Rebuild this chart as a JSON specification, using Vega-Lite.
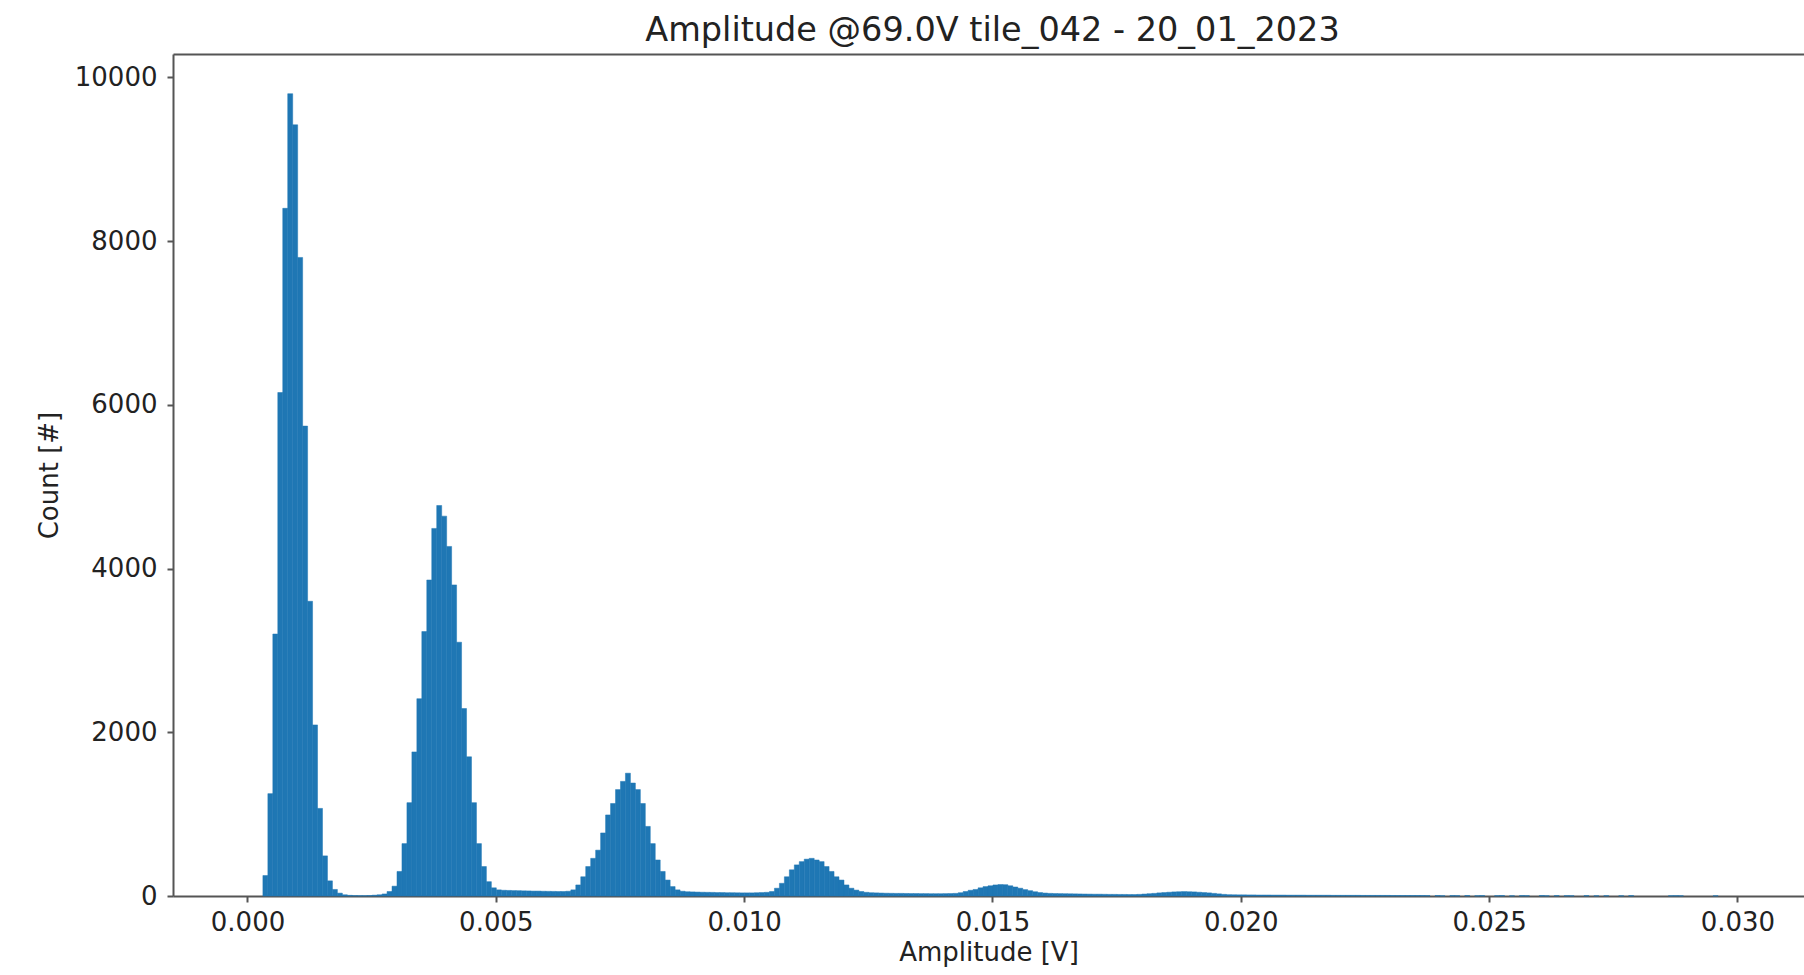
{
"$schema": "https://vega.github.io/schema/vega-lite/v6.json",
"width": 1631,
"height": 842,
"autosize": {"type": "none"},
"padding": {"left": 173, "top": 54, "right": 0, "bottom": 79},
"background": "white",
"config": {"font": "DejaVu Sans", "view": {"stroke": null}},
"title": {"text": "Amplitude @69.0V tile_042 - 20_01_2023", "fontSize": 33.5, "fontWeight": "normal", "color": "#222", "offset": 6, "anchor": "middle", "dx": 4, "font": "DejaVu Sans"},
"data": {"values": [
{"lo":0.0003,"hi":0.0004,"n":250},{"lo":0.0004,"hi":0.0005,"n":1250},{"lo":0.0005,"hi":0.0006,"n":3200},{"lo":0.0006,"hi":0.0007,"n":6150},{"lo":0.0007,"hi":0.0008,"n":8400},{"lo":0.0008,"hi":0.0009,"n":9800},{"lo":0.0009,"hi":0.0010,"n":9420},{"lo":0.0010,"hi":0.0011,"n":7800},{"lo":0.0011,"hi":0.0012,"n":5740},{"lo":0.0012,"hi":0.0013,"n":3600},{"lo":0.0013,"hi":0.0014,"n":2090},{"lo":0.0014,"hi":0.0015,"n":1070},{"lo":0.0015,"hi":0.0016,"n":490},{"lo":0.0016,"hi":0.0017,"n":185},{"lo":0.0017,"hi":0.0018,"n":80},{"lo":0.0018,"hi":0.0019,"n":35},{"lo":0.0019,"hi":0.0020,"n":15},
{"lo":0.0020,"hi":0.0021,"n":8},{"lo":0.0021,"hi":0.0022,"n":5},{"lo":0.0022,"hi":0.0023,"n":4},{"lo":0.0023,"hi":0.0024,"n":4},{"lo":0.0024,"hi":0.0025,"n":6},{"lo":0.0025,"hi":0.0026,"n":10},{"lo":0.0026,"hi":0.0027,"n":15},{"lo":0.0027,"hi":0.0028,"n":25},{"lo":0.0028,"hi":0.0029,"n":55},{"lo":0.0029,"hi":0.0030,"n":120},
{"lo":0.0030,"hi":0.0031,"n":300},{"lo":0.0031,"hi":0.0032,"n":640},{"lo":0.0032,"hi":0.0033,"n":1140},{"lo":0.0033,"hi":0.0034,"n":1760},{"lo":0.0034,"hi":0.0035,"n":2410},{"lo":0.0035,"hi":0.0036,"n":3230},{"lo":0.0036,"hi":0.0037,"n":3860},{"lo":0.0037,"hi":0.0038,"n":4490},{"lo":0.0038,"hi":0.0039,"n":4770},{"lo":0.0039,"hi":0.0040,"n":4640},
{"lo":0.0040,"hi":0.0041,"n":4270},{"lo":0.0041,"hi":0.0042,"n":3800},{"lo":0.0042,"hi":0.0043,"n":3100},{"lo":0.0043,"hi":0.0044,"n":2290},{"lo":0.0044,"hi":0.0045,"n":1700},{"lo":0.0045,"hi":0.0046,"n":1140},{"lo":0.0046,"hi":0.0047,"n":640},{"lo":0.0047,"hi":0.0048,"n":360},{"lo":0.0048,"hi":0.0049,"n":175},{"lo":0.0049,"hi":0.0050,"n":100},
{"lo":0.0050,"hi":0.0051,"n":75},{"lo":0.0051,"hi":0.0052,"n":70},{"lo":0.0052,"hi":0.0053,"n":68},{"lo":0.0053,"hi":0.0054,"n":66},{"lo":0.0054,"hi":0.0055,"n":65},{"lo":0.0055,"hi":0.0056,"n":63},{"lo":0.0056,"hi":0.0057,"n":62},{"lo":0.0057,"hi":0.0058,"n":60},{"lo":0.0058,"hi":0.0059,"n":60},{"lo":0.0059,"hi":0.0060,"n":58},
{"lo":0.0060,"hi":0.0061,"n":57},{"lo":0.0061,"hi":0.0062,"n":56},{"lo":0.0062,"hi":0.0063,"n":55},{"lo":0.0063,"hi":0.0064,"n":55},{"lo":0.0064,"hi":0.0065,"n":58},{"lo":0.0065,"hi":0.0066,"n":75},{"lo":0.0066,"hi":0.0067,"n":135},{"lo":0.0067,"hi":0.0068,"n":235},{"lo":0.0068,"hi":0.0069,"n":360},{"lo":0.0069,"hi":0.0070,"n":460},
{"lo":0.0070,"hi":0.0071,"n":560},{"lo":0.0071,"hi":0.0072,"n":770},{"lo":0.0072,"hi":0.0073,"n":990},{"lo":0.0073,"hi":0.0074,"n":1130},{"lo":0.0074,"hi":0.0075,"n":1300},{"lo":0.0075,"hi":0.0076,"n":1400},{"lo":0.0076,"hi":0.0077,"n":1500},{"lo":0.0077,"hi":0.0078,"n":1380},{"lo":0.0078,"hi":0.0079,"n":1300},{"lo":0.0079,"hi":0.0080,"n":1130},
{"lo":0.0080,"hi":0.0081,"n":850},{"lo":0.0081,"hi":0.0082,"n":640},{"lo":0.0082,"hi":0.0083,"n":440},{"lo":0.0083,"hi":0.0084,"n":300},{"lo":0.0084,"hi":0.0085,"n":195},{"lo":0.0085,"hi":0.0086,"n":115},{"lo":0.0086,"hi":0.0087,"n":75},{"lo":0.0087,"hi":0.0088,"n":58},{"lo":0.0088,"hi":0.0089,"n":52},{"lo":0.0089,"hi":0.0090,"n":50},
{"lo":0.0090,"hi":0.0091,"n":48},{"lo":0.0091,"hi":0.0092,"n":46},{"lo":0.0092,"hi":0.0093,"n":45},{"lo":0.0093,"hi":0.0094,"n":44},{"lo":0.0094,"hi":0.0095,"n":42},{"lo":0.0095,"hi":0.0096,"n":42},{"lo":0.0096,"hi":0.0097,"n":40},{"lo":0.0097,"hi":0.0098,"n":40},{"lo":0.0098,"hi":0.0099,"n":39},{"lo":0.0099,"hi":0.0100,"n":38},
{"lo":0.0100,"hi":0.0101,"n":38},{"lo":0.0101,"hi":0.0102,"n":38},{"lo":0.0102,"hi":0.0103,"n":40},{"lo":0.0103,"hi":0.0104,"n":42},{"lo":0.0104,"hi":0.0105,"n":45},{"lo":0.0105,"hi":0.0106,"n":55},{"lo":0.0106,"hi":0.0107,"n":95},{"lo":0.0107,"hi":0.0108,"n":155},{"lo":0.0108,"hi":0.0109,"n":235},{"lo":0.0109,"hi":0.0110,"n":320},
{"lo":0.0110,"hi":0.0111,"n":380},{"lo":0.0111,"hi":0.0112,"n":420},{"lo":0.0112,"hi":0.0113,"n":450},{"lo":0.0113,"hi":0.0114,"n":460},{"lo":0.0114,"hi":0.0115,"n":440},{"lo":0.0115,"hi":0.0116,"n":420},{"lo":0.0116,"hi":0.0117,"n":360},{"lo":0.0117,"hi":0.0118,"n":300},{"lo":0.0118,"hi":0.0119,"n":235},{"lo":0.0119,"hi":0.0120,"n":195},
{"lo":0.0120,"hi":0.0121,"n":135},{"lo":0.0121,"hi":0.0122,"n":95},{"lo":0.0122,"hi":0.0123,"n":72},{"lo":0.0123,"hi":0.0124,"n":55},{"lo":0.0124,"hi":0.0125,"n":45},{"lo":0.0125,"hi":0.0126,"n":40},{"lo":0.0126,"hi":0.0127,"n":38},{"lo":0.0127,"hi":0.0128,"n":36},{"lo":0.0128,"hi":0.0129,"n":34},{"lo":0.0129,"hi":0.0130,"n":33},
{"lo":0.0130,"hi":0.0131,"n":32},{"lo":0.0131,"hi":0.0132,"n":32},{"lo":0.0132,"hi":0.0133,"n":31},{"lo":0.0133,"hi":0.0134,"n":30},{"lo":0.0134,"hi":0.0135,"n":30},{"lo":0.0135,"hi":0.0136,"n":29},{"lo":0.0136,"hi":0.0137,"n":29},{"lo":0.0137,"hi":0.0138,"n":28},{"lo":0.0138,"hi":0.0139,"n":28},{"lo":0.0139,"hi":0.0140,"n":28},
{"lo":0.0140,"hi":0.0141,"n":29},{"lo":0.0141,"hi":0.0142,"n":30},{"lo":0.0142,"hi":0.0143,"n":32},{"lo":0.0143,"hi":0.0144,"n":40},{"lo":0.0144,"hi":0.0145,"n":55},{"lo":0.0145,"hi":0.0146,"n":70},{"lo":0.0146,"hi":0.0147,"n":80},{"lo":0.0147,"hi":0.0148,"n":100},{"lo":0.0148,"hi":0.0149,"n":115},{"lo":0.0149,"hi":0.0150,"n":125},
{"lo":0.0150,"hi":0.0151,"n":135},{"lo":0.0151,"hi":0.0152,"n":140},{"lo":0.0152,"hi":0.0153,"n":138},{"lo":0.0153,"hi":0.0154,"n":125},{"lo":0.0154,"hi":0.0155,"n":110},{"lo":0.0155,"hi":0.0156,"n":95},{"lo":0.0156,"hi":0.0157,"n":78},{"lo":0.0157,"hi":0.0158,"n":65},{"lo":0.0158,"hi":0.0159,"n":52},{"lo":0.0159,"hi":0.0160,"n":42},
{"lo":0.0160,"hi":0.0161,"n":36},{"lo":0.0161,"hi":0.0162,"n":32},{"lo":0.0162,"hi":0.0163,"n":30},{"lo":0.0163,"hi":0.0164,"n":29},{"lo":0.0164,"hi":0.0165,"n":28},{"lo":0.0165,"hi":0.0166,"n":27},{"lo":0.0166,"hi":0.0167,"n":26},{"lo":0.0167,"hi":0.0168,"n":25},{"lo":0.0168,"hi":0.0169,"n":24},{"lo":0.0169,"hi":0.0170,"n":23},
{"lo":0.0170,"hi":0.0171,"n":22},{"lo":0.0171,"hi":0.0172,"n":22},{"lo":0.0172,"hi":0.0173,"n":21},{"lo":0.0173,"hi":0.0174,"n":20},{"lo":0.0174,"hi":0.0175,"n":20},{"lo":0.0175,"hi":0.0176,"n":19},{"lo":0.0176,"hi":0.0177,"n":19},{"lo":0.0177,"hi":0.0178,"n":18},{"lo":0.0178,"hi":0.0179,"n":18},{"lo":0.0179,"hi":0.0180,"n":20},
{"lo":0.0180,"hi":0.0181,"n":24},{"lo":0.0181,"hi":0.0182,"n":28},{"lo":0.0182,"hi":0.0183,"n":32},{"lo":0.0183,"hi":0.0184,"n":38},{"lo":0.0184,"hi":0.0185,"n":42},{"lo":0.0185,"hi":0.0186,"n":46},{"lo":0.0186,"hi":0.0187,"n":50},{"lo":0.0187,"hi":0.0188,"n":52},{"lo":0.0188,"hi":0.0189,"n":54},{"lo":0.0189,"hi":0.0190,"n":52},
{"lo":0.0190,"hi":0.0191,"n":50},{"lo":0.0191,"hi":0.0192,"n":46},{"lo":0.0192,"hi":0.0193,"n":42},{"lo":0.0193,"hi":0.0194,"n":38},{"lo":0.0194,"hi":0.0195,"n":32},{"lo":0.0195,"hi":0.0196,"n":26},{"lo":0.0196,"hi":0.0197,"n":20},{"lo":0.0197,"hi":0.0198,"n":16},{"lo":0.0198,"hi":0.0199,"n":15},{"lo":0.0199,"hi":0.0200,"n":14},
{"lo":0.0200,"hi":0.0201,"n":14},{"lo":0.0201,"hi":0.0202,"n":13},{"lo":0.0202,"hi":0.0203,"n":13},{"lo":0.0203,"hi":0.0204,"n":12},{"lo":0.0204,"hi":0.0205,"n":12},{"lo":0.0205,"hi":0.0206,"n":12},{"lo":0.0206,"hi":0.0207,"n":11},{"lo":0.0207,"hi":0.0208,"n":11},{"lo":0.0208,"hi":0.0209,"n":11},{"lo":0.0209,"hi":0.0210,"n":10},
{"lo":0.0210,"hi":0.0211,"n":10},{"lo":0.0211,"hi":0.0212,"n":10},{"lo":0.0212,"hi":0.0213,"n":10},{"lo":0.0213,"hi":0.0214,"n":9},{"lo":0.0214,"hi":0.0215,"n":9},{"lo":0.0215,"hi":0.0216,"n":9},{"lo":0.0216,"hi":0.0217,"n":9},{"lo":0.0217,"hi":0.0218,"n":9},{"lo":0.0218,"hi":0.0219,"n":8},{"lo":0.0219,"hi":0.0220,"n":8},
{"lo":0.0220,"hi":0.0221,"n":8},{"lo":0.0221,"hi":0.0222,"n":8},{"lo":0.0222,"hi":0.0223,"n":8},{"lo":0.0223,"hi":0.0224,"n":8},{"lo":0.0224,"hi":0.0225,"n":7},{"lo":0.0225,"hi":0.0226,"n":7},{"lo":0.0226,"hi":0.0227,"n":7},{"lo":0.0227,"hi":0.0228,"n":7},{"lo":0.0228,"hi":0.0229,"n":7},{"lo":0.0229,"hi":0.0230,"n":7},
{"lo":0.0230,"hi":0.0231,"n":6},{"lo":0.0231,"hi":0.0232,"n":6},{"lo":0.0232,"hi":0.0233,"n":6},{"lo":0.0233,"hi":0.0234,"n":6},{"lo":0.0234,"hi":0.0235,"n":6},{"lo":0.0235,"hi":0.0236,"n":6},{"lo":0.0236,"hi":0.0237,"n":6},{"lo":0.0237,"hi":0.0238,"n":5},{"lo":0.0239,"hi":0.0240,"n":6},
{"lo":0.0240,"hi":0.0241,"n":3},{"lo":0.0242,"hi":0.0243,"n":5},{"lo":0.0243,"hi":0.0244,"n":4},{"lo":0.0245,"hi":0.0246,"n":6},{"lo":0.0247,"hi":0.0248,"n":3},{"lo":0.0248,"hi":0.0249,"n":5},
{"lo":0.0251,"hi":0.0252,"n":4},{"lo":0.0252,"hi":0.0253,"n":6},{"lo":0.0254,"hi":0.0255,"n":3},{"lo":0.0256,"hi":0.0257,"n":5},{"lo":0.0257,"hi":0.0258,"n":4},
{"lo":0.0260,"hi":0.0261,"n":6},{"lo":0.0261,"hi":0.0262,"n":3},{"lo":0.0263,"hi":0.0264,"n":5},{"lo":0.0265,"hi":0.0266,"n":4},{"lo":0.0266,"hi":0.0267,"n":3},{"lo":0.0269,"hi":0.0270,"n":5},
{"lo":0.0271,"hi":0.0272,"n":3},{"lo":0.0273,"hi":0.0274,"n":4},{"lo":0.0276,"hi":0.0277,"n":3},{"lo":0.0278,"hi":0.0279,"n":5},
{"lo":0.0286,"hi":0.0287,"n":3},{"lo":0.0287,"hi":0.0288,"n":4},{"lo":0.0288,"hi":0.0289,"n":3},{"lo":0.0295,"hi":0.0296,"n":3}
]},
"layer": [
{
"mark": {"type": "bar", "orient": "vertical", "binSpacing": 0, "color": "#1f77b4", "stroke": "#1f77b4", "strokeWidth": 0.5},
"encoding": {
"x": {"field": "lo", "type": "quantitative", "bin": {"binned": true}, "scale": {"domain": [-0.0015, 0.03134], "nice": false, "zero": false},
"axis": {"orient": "bottom", "values": [0, 0.005, 0.01, 0.015, 0.02, 0.025, 0.03], "format": ".3f", "grid": false, "labelFlush": false, "labelFontSize": 26, "labelColor": "#222", "labelPadding": 7, "tickSize": 6, "tickWidth": 2, "tickColor": "#555", "domainColor": "#555", "domainWidth": 2, "title": "Amplitude [V]", "titleFontSize": 26, "titleFontWeight": "normal", "titleColor": "#222", "titlePadding": 4}},
"x2": {"field": "hi"},
"y": {"field": "n", "type": "quantitative", "scale": {"domain": [0, 10285], "nice": false},
"axis": {"values": [0, 2000, 4000, 6000, 8000, 10000], "format": "d", "grid": false, "labelFontSize": 26, "labelColor": "#222", "labelPadding": 10, "tickSize": 6, "tickWidth": 2, "tickColor": "#555", "domainColor": "#555", "domainWidth": 2, "title": "Count [#]", "titleFontSize": 26, "titleFontWeight": "normal", "titleColor": "#222", "titlePadding": 12}}
}
},
{
"mark": {"type": "bar", "orient": "vertical", "binSpacing": 0, "opacity": 0},
"encoding": {
"x": {"field": "lo", "type": "quantitative", "bin": {"binned": true}, "axis": {"orient": "top", "labels": false, "ticks": false, "title": null, "grid": false, "domainColor": "#555", "domainWidth": 2}},
"x2": {"field": "hi"},
"y": {"field": "n", "type": "quantitative"}
}
}
],
"resolve": {"axis": {"x": "independent"}}
}
